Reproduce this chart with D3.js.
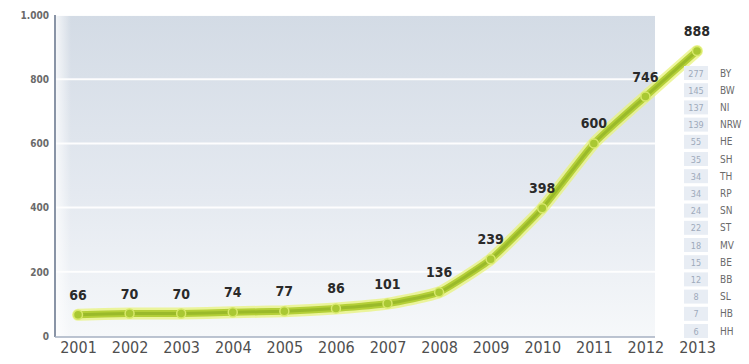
<!DOCTYPE html>
<html><head><meta charset="utf-8">
<script src="https://cdn.jsdelivr.net/npm/d3@7"></script>
<style>
html,body{margin:0;padding:0;background:#fff;}
svg{display:block;}
</style></head>
<body>
<svg id="c" width="749" height="364"></svg>
<script>
const years = ["2001","2002","2003","2004","2005","2006","2007","2008","2009","2010","2011","2012","2013"];
const values = [66,70,70,74,77,86,101,136,239,398,600,746,888];
const yTicks = [0,200,400,600,800,1000];
const legendStates = ["BY","BW","NI","NRW","HE","SH","TH","RP","SN","ST","MV","BE","BB","SL","HB","HH"];
const legendValues = [277,145,137,139,55,35,34,34,24,22,18,15,12,8,7,6];

const svg = d3.select("#c");
const panel = {x0:55, x1:655, y0:15, y1:337};
const x = d3.scalePoint().domain(years).range([78, 697]);
const y = d3.scaleLinear().domain([0,1000]).range([336, 15]);

const defs = svg.append("defs");
const g1 = defs.append("linearGradient").attr("id","bg").attr("x1",0).attr("y1",0).attr("x2",0).attr("y2",1);
g1.append("stop").attr("offset","0%").attr("stop-color","#d3dbe5");
g1.append("stop").attr("offset","55%").attr("stop-color","#e4e9f0");
g1.append("stop").attr("offset","100%").attr("stop-color","#f6f8fa");
const g2 = defs.append("linearGradient").attr("id","side").attr("x1",0).attr("y1",0).attr("x2",1).attr("y2",0);
g2.append("stop").attr("offset","0%").attr("stop-color","#ffffff").attr("stop-opacity",0.8);
g2.append("stop").attr("offset","100%").attr("stop-color","#ffffff").attr("stop-opacity",0);

svg.append("rect").attr("x",panel.x0).attr("y",panel.y0).attr("width",panel.x1-panel.x0).attr("height",panel.y1-panel.y0).attr("fill","url(#bg)");
svg.append("rect").attr("x",panel.x0).attr("y",panel.y0).attr("width",16).attr("height",panel.y1-panel.y0).attr("fill","url(#side)");

// gridlines
svg.append("g").selectAll("line").data(yTicks.filter(d=>d>0)).join("line")
  .attr("x1",panel.x0+1).attr("x2",panel.x1).attr("y1",d=>y(d)).attr("y2",d=>y(d))
  .attr("stroke","#ffffff").attr("stroke-width",2).attr("opacity",0.95);

// y axis
const yAxis = d3.axisLeft(y).tickValues(yTicks).tickSize(0).tickPadding(6)
  .tickFormat(d => d>=1000 ? d3.format(",")(d).replace(",",".") : d);
const ya = svg.append("g").attr("transform",`translate(${panel.x0},0)`).call(yAxis);
ya.select(".domain").attr("stroke","#8994a6").attr("stroke-width",2).attr("d",`M0,${panel.y0}V${panel.y1}`);
ya.selectAll("text").attr("fill","#6a6a6a").style("font-family","'Liberation Sans Narrow','DejaVu Sans Condensed',sans-serif").style("font-size","10px").style("font-weight","bold");

// x axis
const xAxis = d3.axisBottom(x).tickSize(0).tickPadding(5);
const xa = svg.append("g").attr("transform",`translate(0,${panel.y1})`).call(xAxis);
xa.select(".domain").attr("stroke","#a6b0c2").attr("stroke-width",1.5).attr("d",`M${panel.x0},0H${panel.x1}`);
xa.selectAll("text").attr("fill","#4f4f4f").style("font-family","'Liberation Sans Narrow','DejaVu Sans Condensed',sans-serif").style("font-size","16px");

// line
const line = d3.line().x((d,i)=>x(years[i])).y(d=>y(d)).curve(d3.curveCardinal.tension(0.55));
svg.append("path").datum(values).attr("d",line).attr("fill","none").attr("stroke","#e8f37c").attr("stroke-width",12).attr("stroke-linecap","round").attr("opacity",0.75);
svg.append("path").datum(values).attr("d",line).attr("fill","none").attr("stroke","#b4cf38").attr("stroke-width",7).attr("stroke-linecap","round");
svg.append("path").datum(values).attr("d",line).attr("fill","none").attr("stroke","#9aba2a").attr("stroke-width",3).attr("stroke-linecap","round");
svg.append("g").selectAll("circle").data(values).join("circle")
  .attr("cx",(d,i)=>x(years[i])).attr("cy",d=>y(d)).attr("r",4.5)
  .attr("fill","#a9c833").attr("stroke","#d7e86a").attr("stroke-width",1.5);

// value labels
svg.append("g").selectAll("text").data(values).join("text")
  .attr("x",(d,i)=>x(years[i])).attr("y",d=>y(d)-15)
  .attr("text-anchor","middle")
  .style("font-family","'DejaVu Sans Condensed','Liberation Sans Narrow',sans-serif").style("font-weight","bold").style("font-size","14px")
  .attr("fill","#2a2a2a").text(d=>d);

// legend
const lg = svg.append("g");
const rowY = d3.scalePoint().domain(legendStates).range([73, 331]);
lg.selectAll("rect").data(legendStates).join("rect")
  .attr("x",684).attr("y",d=>rowY(d)-7).attr("width",24).attr("height",14).attr("fill","#e8edf4");
lg.selectAll("text.v").data(legendValues).join("text").attr("class","v")
  .attr("x",696).attr("y",(d,i)=>rowY(legendStates[i])+3.5).attr("text-anchor","middle")
  .style("font-family","'Liberation Sans Narrow','DejaVu Sans Condensed',sans-serif").style("font-size","9px")
  .attr("fill","#9eaabb").text(d=>d);
lg.selectAll("text.s").data(legendStates).join("text").attr("class","s")
  .attr("x",720).attr("y",d=>rowY(d)+3.5)
  .style("font-family","'Liberation Sans Narrow','DejaVu Sans Condensed',sans-serif").style("font-size","10px")
  .attr("fill","#6a6a6a").text(d=>d);
</script>
</body></html>
